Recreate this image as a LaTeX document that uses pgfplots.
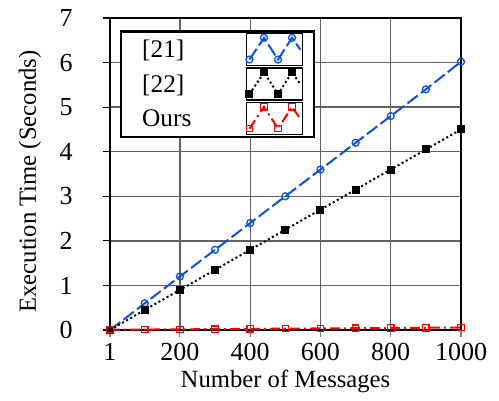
\documentclass[border=0pt]{standalone}
\usepackage{pgfplots}
\pgfplotsset{compat=1.18}
\usepackage{fontspec}
\setmainfont{Liberation Serif}
\definecolor{myblue}{RGB}{16,80,225}
\definecolor{myred}{RGB}{255,0,0}
\begin{document}
\begin{tikzpicture}
\begin{axis}[
  name=ax,
  scale only axis,
  width=263.25pt, height=234pt,
  xmin=1, xmax=1000, ymin=0, ymax=7,
  xtick={1,200,400,600,800,1000},
  xticklabels={1,200,400,600,800,1000},
  ytick={0,1,...,7},
  xtick pos=bottom, ytick pos=left,
  tick align=outside,
  major tick length=5.5pt,
  xtick style={black!50, line width=0.8pt},
  ytick style={black, line width=0.8pt},
  axis line style={black, line width=1pt},
  grid=major,
  major grid style={black!62, line width=1pt},
  tick label style={font=\fontsize{19.5}{21}\selectfont},
  /pgf/number format/assume math mode=true,
  yticklabel style={anchor=east, xshift=-19pt},
  xticklabel style={yshift=-1pt},
  xlabel={Number of Messages},
  ylabel={Execution Time (Seconds)},
  xlabel style={font=\fontsize{18.5}{21}\selectfont, at={(axis description cs:0.5,0)}, anchor=base, yshift=-42.75pt},
  ylabel style={font=\fontsize{18.5}{21}\selectfont, at={(axis description cs:-0.228,0.476)}, anchor=center},
  legend style={at={(0.0285,0.96)}, anchor=north west, draw=black, line width=1.7pt,
    font=\fontsize{19}{21}\selectfont, row sep=0.8pt, inner xsep=8pt, inner ysep=1pt,
    column sep=0pt, cells={anchor=west}, nodes={inner sep=0.8pt}},
  legend plot pos=right,
  legend image code/.code={
    \draw[black, line width=1.1pt, solid] (0pt,-12pt) rectangle (42pt,12pt);
    \draw[#1, mark=none] plot coordinates {(2.1pt,-7.4pt) (13pt,8.9pt) (23.5pt,-7.4pt) (34pt,8.9pt) (40.3pt,0pt)};
    \draw[#1, solid] plot[only marks] coordinates {(2.1pt,-7.4pt) (13pt,8.9pt) (23.5pt,-7.4pt) (34pt,8.9pt)};
  },
]
\addplot[myblue, dash pattern=on 9.75pt off 3pt, line width=1.5pt, mark=o, mark size=2.6pt, mark options={solid, line width=1pt}]
coordinates {(1,0) (100,0.6) (200,1.2) (300,1.8) (400,2.4) (500,3.0) (600,3.6) (700,4.2) (800,4.8) (900,5.4) (1000,6.02)};
\addlegendentry{\makebox[84pt][l]{\hspace{7pt}[21]}}
\addplot[black, dash pattern=on 1.5pt off 2pt, line width=1.5pt, mark=square*, mark size=2.25pt, mark options={solid}]
coordinates {(1,0) (100,0.45) (200,0.9) (300,1.35) (400,1.8) (500,2.25) (600,2.7) (700,3.15) (800,3.6) (900,4.05) (1000,4.5)};
\addlegendentry{\makebox[84pt][l]{\hspace{7pt}[22]}}
\addplot[myred, dash pattern=on 7.5pt off 3pt on 1.5pt off 3pt, line width=1.5pt, mark=square, mark size=2.4pt, mark options={solid, line width=0.9pt}]
coordinates {(1,0.01) (100,0.01) (200,0.015) (300,0.02) (400,0.025) (500,0.03) (600,0.035) (700,0.04) (800,0.045) (900,0.05) (1000,0.055)};
\addlegendentry{\makebox[84pt][l]{\hspace{7pt}Ours}}
\end{axis}
\pgfresetboundingbox
\path[use as bounding box] (ax.south west) ++(-82.5pt,-52.5pt) rectangle ++(374.25pt,300pt);
\end{tikzpicture}
\end{document}
